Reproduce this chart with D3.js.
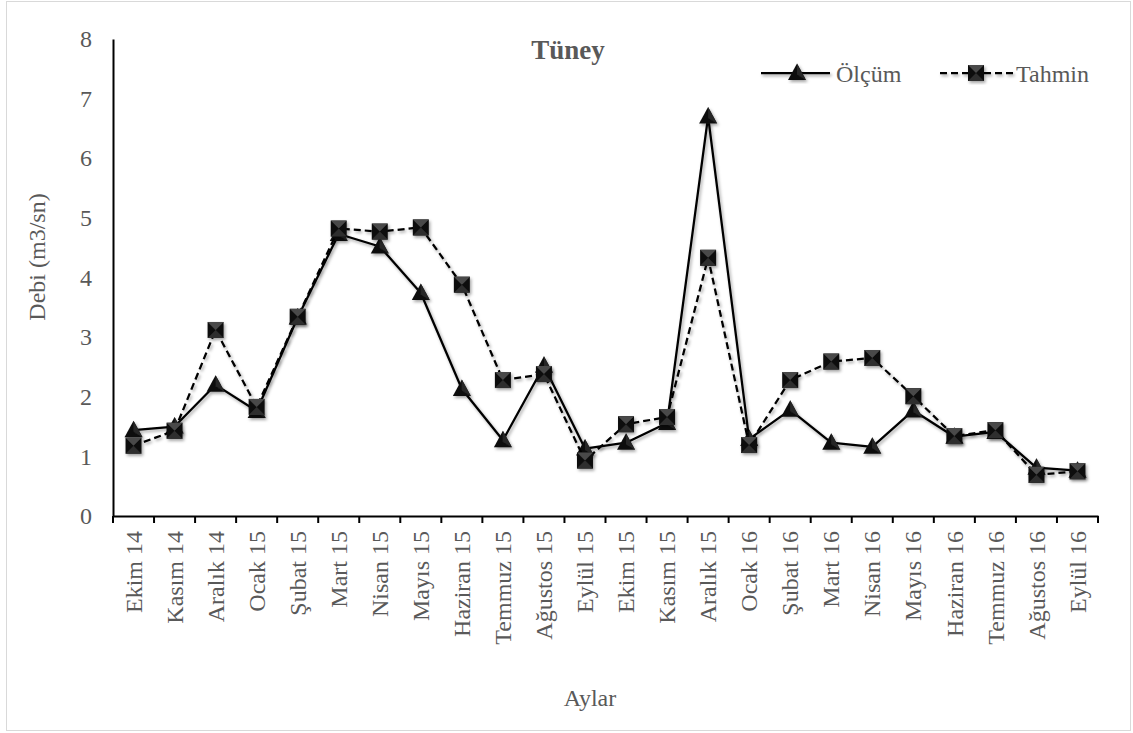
<!DOCTYPE html>
<html>
<head>
<meta charset="utf-8">
<script src="https://cdn.jsdelivr.net/npm/d3@7"></script>
<style>
  html, body { margin: 0; padding: 0; background: #fff; }
  svg text { font-family: "Liberation Serif", "Times New Roman", serif; fill: #595959; }
</style>
</head>
<body>
<svg id="chart" width="1133" height="733"></svg>
<script>
// Monthly categories (Oct 2014 – Sep 2016)
const months = ["Ekim 14", "Kasım 14", "Aralık 14", "Ocak 15", "Şubat 15", "Mart 15",
  "Nisan 15", "Mayıs 15", "Haziran 15", "Temmuz 15", "Ağustos 15", "Eylül 15",
  "Ekim 15", "Kasım 15", "Aralık 15", "Ocak 16", "Şubat 16", "Mart 16",
  "Nisan 16", "Mayıs 16", "Haziran 16", "Temmuz 16", "Ağustos 16", "Eylül 16"];

// Measured discharge (m3/sn)
const olcum = [1.44, 1.50, 2.20, 1.76, 3.33, 4.73, 4.52, 3.74, 2.13, 1.27, 2.52, 1.13,
  1.23, 1.56, 6.70, 1.29, 1.78, 1.23, 1.16, 1.77, 1.33, 1.41, 0.81, 0.76];

// Predicted discharge (m3/sn)
const tahmin = [1.18, 1.43, 3.12, 1.83, 3.34, 4.82, 4.77, 4.84, 3.88, 2.28, 2.38, 0.93,
  1.54, 1.66, 4.33, 1.19, 2.28, 2.59, 2.65, 2.01, 1.34, 1.44, 0.69, 0.75];

const yTicks = [0, 1, 2, 3, 4, 5, 6, 7, 8];

const svg = d3.select("#chart");

// Soft drop shadow used by series lines and markers
const defs = svg.append("defs");
const f = defs.append("filter").attr("id", "shadow")
  .attr("x", "-20%").attr("y", "-20%").attr("width", "140%").attr("height", "140%");
f.append("feDropShadow").attr("dx", 1.5).attr("dy", 2).attr("stdDeviation", 1.5)
  .attr("flood-color", "#000").attr("flood-opacity", 0.35);

// Chart area border
svg.append("rect").attr("x", 6.5).attr("y", 1.5).attr("width", 1124).attr("height", 729)
  .attr("fill", "#fff").attr("stroke", "#d9d9d9").attr("stroke-width", 1);

const x = d3.scaleBand().domain(months).range([113, 1098]).padding(0);
const y = d3.scaleLinear().domain([0, 8]).range([516, 39]);

// Y axis (line only, labels on the left)
const yAxis = svg.append("g").attr("transform", "translate(113,0)")
  .call(d3.axisLeft(y).tickValues(yTicks).tickSize(0).tickPadding(21).tickFormat(d3.format("d")));
yAxis.select(".domain").attr("stroke", "#000").attr("stroke-width", 2);
yAxis.selectAll("text").attr("font-size", 24).attr("fill", "#595959")
  .style("font-family", "'Liberation Serif', serif");

// X axis with ticks between categories
const xAxis = svg.append("g").attr("transform", "translate(0,516)")
  .call(d3.axisBottom(x).tickSize(0).tickFormat(""));
xAxis.select(".domain").attr("stroke", "#000").attr("stroke-width", 2);
const bounds = months.map(m => x(m)).concat([x.range()[1]]);
xAxis.selectAll(".boundary").data(bounds).enter().append("line")
  .attr("class", "boundary")
  .attr("x1", d => d).attr("x2", d => d).attr("y1", 0).attr("y2", 7)
  .attr("stroke", "#000").attr("stroke-width", 2);

// Rotated month labels
svg.append("g").selectAll("text").data(months).enter().append("text")
  .attr("transform", d => `translate(${x(d) + x.bandwidth() / 2},531) rotate(-90)`)
  .attr("text-anchor", "end").attr("dy", "0.34em")
  .attr("font-size", 24).text(d => d);

// Axis titles
svg.append("text").attr("x", 590).attr("y", 706).attr("text-anchor", "middle")
  .attr("font-size", 24).text("Aylar");
svg.append("text").attr("transform", "translate(45,257) rotate(-90)")
  .attr("text-anchor", "middle").attr("font-size", 24).text("Debi (m3/sn)");

// Title
svg.append("text").attr("x", 568).attr("y", 59).attr("text-anchor", "middle")
  .attr("font-size", 27).attr("font-weight", "bold").text("Tüney");

const cx = (d, i) => x(months[i]) + x.bandwidth() / 2;
const line = d3.line().x((d, i) => cx(d, i)).y(d => y(d));

// Marker painters
function triangle(g) {
  g.append("path").attr("d", "M0,-9.5 L9,7 L-9,7 Z").attr("fill", "#111");
  g.append("path").attr("d", "M0,-9.5 L9,7 L0,1.5 Z").attr("fill", "#262626");
}
function square(g) {
  const s = 8;
  g.append("rect").attr("x", -s).attr("y", -s).attr("width", 2 * s).attr("height", 2 * s).attr("fill", "#0f0f0f");
  g.append("path").attr("d", `M${-s},${-s} L${s},${-s} L0,0 Z`).attr("fill", "#4a4a4a");
  g.append("path").attr("d", `M${-s},${s} L${s},${s} L0,0 Z`).attr("fill", "#2e2e2e");
}

// Measured series
const gO = svg.append("g").attr("filter", "url(#shadow)");
gO.append("path").datum(olcum).attr("d", line)
  .attr("fill", "none").attr("stroke", "#000").attr("stroke-width", 2.25).attr("stroke-linejoin", "round");
gO.selectAll("g.m").data(olcum).enter().append("g").attr("class", "m")
  .attr("transform", (d, i) => `translate(${cx(d, i)},${y(d)})`)
  .each(function () { triangle(d3.select(this)); });

// Predicted series
const gT = svg.append("g").attr("filter", "url(#shadow)");
gT.append("path").datum(tahmin).attr("d", line)
  .attr("fill", "none").attr("stroke", "#000").attr("stroke-width", 2.25)
  .attr("stroke-dasharray", "7,4");
gT.selectAll("g.m").data(tahmin).enter().append("g").attr("class", "m")
  .attr("transform", (d, i) => `translate(${cx(d, i)},${y(d)})`)
  .each(function () { square(d3.select(this)); });

// Legend
const lg = svg.append("g");
const l1 = lg.append("g").attr("filter", "url(#shadow)");
l1.append("line").attr("x1", 761).attr("x2", 830).attr("y1", 73).attr("y2", 73)
  .attr("stroke", "#000").attr("stroke-width", 2.25);
triangle(l1.append("g").attr("transform", "translate(797,73)"));
lg.append("text").attr("x", 836).attr("y", 82).attr("font-size", 24).text("Ölçüm");

const l2 = lg.append("g").attr("filter", "url(#shadow)");
l2.append("line").attr("x1", 940).attr("x2", 1013).attr("y1", 73).attr("y2", 73)
  .attr("stroke", "#000").attr("stroke-width", 2.25).attr("stroke-dasharray", "7,4");
square(l2.append("g").attr("transform", "translate(976,73)"));
lg.append("text").attr("x", 1016).attr("y", 82).attr("font-size", 24).text("Tahmin");
</script>
</body>
</html>
